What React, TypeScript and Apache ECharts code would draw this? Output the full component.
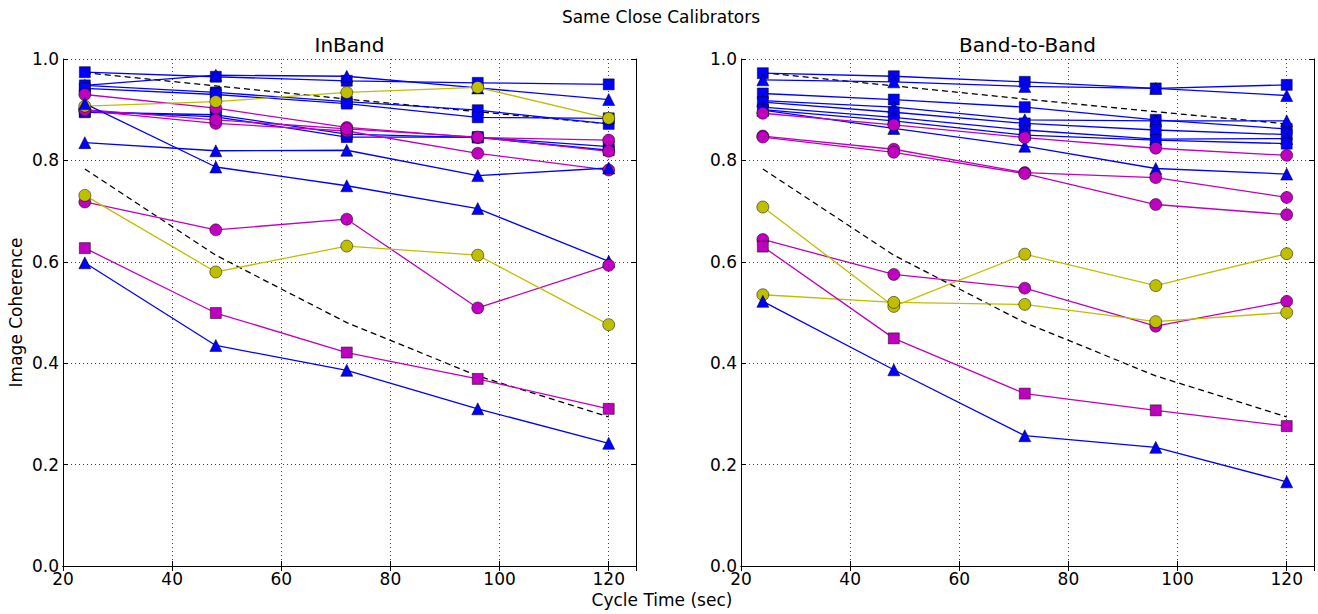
import React, { useEffect, useRef } from "react";
import * as echarts from "echarts";

// ---- data ----
const cycleTimes = [24, 48, 72, 96, 120];
const xTickStep = 20;
const yTickStep = 0.2;

// reference (dashed) curves, same in both panels
const refUpper = [0.973, 0.947, 0.921, 0.896, 0.872];
const refLower = [0.783, 0.613, 0.48, 0.375, 0.294];

// InBand panel
const ibBlueSqA = [0.974, 0.965, 0.957, 0.953, 0.95];
const ibBlueTriB = [0.948, 0.968, 0.966, 0.943, 0.92];
const ibBlueSqC = [0.948, 0.934, 0.916, 0.899, 0.872];
const ibBlueSqD = [0.942, 0.93, 0.912, 0.885, 0.883];
const ibBlueSqE = [0.897, 0.886, 0.846, 0.846, 0.827];
const ibBlueSqF = [0.895, 0.89, 0.852, 0.845, 0.82];
const ibMagCircG = [0.93, 0.903, 0.865, 0.845, 0.84];
const ibMagCircH = [0.898, 0.873, 0.858, 0.814, 0.781];
const ibMagCircI = [0.9, 0.88, 0.862, 0.846, 0.818];
const ibYelCircJ = [0.907, 0.916, 0.934, 0.944, 0.883];
const ibBlueTriK = [0.912, 0.787, 0.75, 0.705, 0.601];
const ibBlueTriL = [0.835, 0.819, 0.82, 0.77, 0.785];
const ibMagCircM = [0.718, 0.663, 0.684, 0.509, 0.593];
const ibYelCircN = [0.731, 0.58, 0.631, 0.613, 0.476];
const ibMagSqO = [0.627, 0.499, 0.421, 0.369, 0.31];
const ibBlueTriP = [0.598, 0.435, 0.386, 0.31, 0.242];

// Band-to-Band panel
const bbBlueSqA = [0.972, 0.966, 0.955, 0.942, 0.949];
const bbBlueTriB = [0.959, 0.955, 0.946, 0.942, 0.928];
const bbBlueSqC = [0.932, 0.92, 0.905, 0.88, 0.862];
const bbBlueTriD = [0.918, 0.905, 0.88, 0.878, 0.878];
const bbBlueSqE = [0.915, 0.895, 0.873, 0.86, 0.851];
const bbBlueTriF = [0.905, 0.885, 0.86, 0.842, 0.843];
const bbBlueSqG = [0.9, 0.878, 0.85, 0.84, 0.833];
const bbBlueTriH = [0.899, 0.863, 0.828, 0.784, 0.773];
const bbMagCircI = [0.893, 0.87, 0.845, 0.824, 0.81];
const bbMagCircJ = [0.848, 0.822, 0.776, 0.766, 0.727];
const bbMagCircK = [0.846, 0.816, 0.774, 0.713, 0.693];
const bbMagCircL = [0.644, 0.575, 0.548, 0.473, 0.522];
const bbYelCircM = [0.708, 0.512, 0.615, 0.553, 0.616];
const bbYelCircN = [0.535, 0.52, 0.516, 0.482, 0.5];
const bbMagSqO = [0.63, 0.449, 0.34, 0.307, 0.276];
const bbBlueTriP = [0.522, 0.387, 0.257, 0.234, 0.166];

// ---- styles ----
const BLUE = "#0000ff";
const MAG = "#bf00bf";
const YEL = "#bfbf00";
const FONT = "DejaVu Sans";

const W = 1318;
const H = 614;
const gridTop = 59;
const gridH = 507;
const gridW = 573;
const gridLefts = [63, 741];

type S = { vals: number[]; color: string; symbol: string };

const inBandSeries: S[] = [
  { vals: ibBlueSqA, color: BLUE, symbol: "rect" },
  { vals: ibBlueTriB, color: BLUE, symbol: "triangle" },
  { vals: ibBlueSqC, color: BLUE, symbol: "rect" },
  { vals: ibBlueSqD, color: BLUE, symbol: "rect" },
  { vals: ibBlueSqE, color: BLUE, symbol: "rect" },
  { vals: ibBlueSqF, color: BLUE, symbol: "rect" },
  { vals: ibMagCircG, color: MAG, symbol: "circle" },
  { vals: ibMagCircH, color: MAG, symbol: "circle" },
  { vals: ibMagCircI, color: MAG, symbol: "circle" },
  { vals: ibYelCircJ, color: YEL, symbol: "circle" },
  { vals: ibBlueTriK, color: BLUE, symbol: "triangle" },
  { vals: ibBlueTriL, color: BLUE, symbol: "triangle" },
  { vals: ibMagCircM, color: MAG, symbol: "circle" },
  { vals: ibYelCircN, color: YEL, symbol: "circle" },
  { vals: ibMagSqO, color: MAG, symbol: "rect" },
  { vals: ibBlueTriP, color: BLUE, symbol: "triangle" },
];

const bandSeries: S[] = [
  { vals: bbBlueSqA, color: BLUE, symbol: "rect" },
  { vals: bbBlueTriB, color: BLUE, symbol: "triangle" },
  { vals: bbBlueSqC, color: BLUE, symbol: "rect" },
  { vals: bbBlueTriD, color: BLUE, symbol: "triangle" },
  { vals: bbBlueSqE, color: BLUE, symbol: "rect" },
  { vals: bbBlueTriF, color: BLUE, symbol: "triangle" },
  { vals: bbBlueSqG, color: BLUE, symbol: "rect" },
  { vals: bbBlueTriH, color: BLUE, symbol: "triangle" },
  { vals: bbMagCircI, color: MAG, symbol: "circle" },
  { vals: bbMagCircJ, color: MAG, symbol: "circle" },
  { vals: bbMagCircK, color: MAG, symbol: "circle" },
  { vals: bbMagCircL, color: MAG, symbol: "circle" },
  { vals: bbYelCircM, color: YEL, symbol: "circle" },
  { vals: bbYelCircN, color: YEL, symbol: "circle" },
  { vals: bbMagSqO, color: MAG, symbol: "rect" },
  { vals: bbBlueTriP, color: BLUE, symbol: "triangle" },
];

function toPts(vals: number[]) {
  return cycleTimes.map((x, i) => [x, vals[i]]);
}

function buildOption() {
  const grid = gridLefts.map((l) => ({
    left: l,
    top: gridTop,
    width: gridW,
    height: gridH,
    containLabel: false,
  }));

  const axisLine = { show: true, lineStyle: { color: "#000", width: 1 } };
  const tick = { show: true, inside: true, length: 5, lineStyle: { color: "#000", width: 1 } };
  const grid_line = { show: true, lineStyle: { color: "#444", width: 1, type: [1, 3] } };

  const xAxis: any[] = [];
  const yAxis: any[] = [];
  gridLefts.forEach((_, gi) => {
    xAxis.push({
      type: "value",
      gridIndex: gi,
      position: "bottom",
      min: 20,
      max: 125,
      interval: xTickStep,
      axisLine,
      axisTick: tick,
      splitLine: grid_line,
      axisLabel: {
        show: true,
        color: "#000",
        fontFamily: FONT,
        fontSize: 17,
        margin: 4,
        formatter: (v: number) => (v > 120 ? "" : String(v)),
      },
    });
    xAxis.push({
      type: "value",
      gridIndex: gi,
      position: "top",
      min: 20,
      max: 125,
      interval: xTickStep,
      axisLine,
      axisTick: tick,
      splitLine: { show: false },
      axisLabel: { show: false },
    });
    yAxis.push({
      type: "value",
      gridIndex: gi,
      position: "left",
      min: 0,
      max: 1,
      interval: yTickStep,
      axisLine,
      axisTick: tick,
      splitLine: grid_line,
      axisLabel: {
        show: true,
        color: "#000",
        fontFamily: FONT,
        fontSize: 17,
        margin: 4,
        formatter: (v: number) => v.toFixed(1),
      },
    });
    yAxis.push({
      type: "value",
      gridIndex: gi,
      position: "right",
      min: 0,
      max: 1,
      interval: yTickStep,
      axisLine,
      axisTick: tick,
      splitLine: { show: false },
      axisLabel: { show: false },
    });
  });

  const series: any[] = [];
  [inBandSeries, bandSeries].forEach((list, gi) => {
    const xi = gi * 2;
    const yi = gi * 2;
    [refUpper, refLower].forEach((r) => {
      series.push({
        type: "line",
        xAxisIndex: xi,
        yAxisIndex: yi,
        data: toPts(r),
        symbol: "none",
        silent: true,
        z: 1,
        lineStyle: { color: "#000", width: 1.3, type: [6, 4] },
      });
    });
    list.forEach((s) => {
      series.push({
        type: "line",
        xAxisIndex: xi,
        yAxisIndex: yi,
        data: toPts(s.vals),
        symbol: s.symbol,
        symbolSize: s.symbol === "circle" ? 12 : s.symbol === "rect" ? 11 : 12,
        showAllSymbol: true,
        silent: true,
        z: 2,
        lineStyle: { color: s.color, width: 1.3 },
        itemStyle: { color: s.color, borderColor: "#000", borderWidth: 0.5 },
        emphasis: { disabled: true },
      });
    });
  });

  const txt = (text: string, x: number, y: number, size: number, rot = 0) => ({
    type: "text",
    x,
    y,
    rotation: rot,
    silent: true,
    style: {
      text,
      fontFamily: FONT,
      fontSize: size,
      fill: "#000",
      textAlign: "center",
      textVerticalAlign: "middle",
    },
  });

  const graphic = [
    txt("Same Close Calibrators", 661, 16.5, 17),
    txt("InBand", gridLefts[0] + gridW / 2, 45, 20),
    txt("Band-to-Band", gridLefts[1] + gridW / 2, 45, 20),
    txt("Cycle Time (sec)", 662, 600, 17),
    txt("Image Coherence", 16, gridTop + gridH / 2, 17, Math.PI / 2),
  ];

  return {
    animation: false,
    backgroundColor: "#fff",
    grid,
    xAxis,
    yAxis,
    series,
    graphic,
  };
}

export default function App() {
  const ref = useRef<HTMLDivElement>(null);
  useEffect(() => {
    if (!ref.current) return;
    const chart = echarts.init(ref.current, undefined, { renderer: "svg" });
    chart.setOption(buildOption() as any);
    return () => chart.dispose();
  }, []);
  return (
    <div
      ref={ref}
      style={{ position: "fixed", left: 0, top: 0, width: W, height: H, background: "#fff" }}
    />
  );
}
